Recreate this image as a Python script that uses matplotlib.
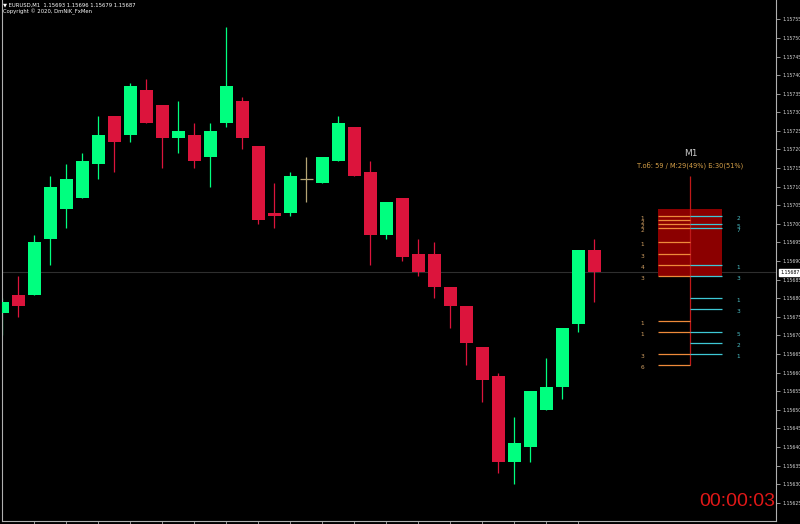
import numpy as np
import matplotlib
matplotlib.use("Agg")
import matplotlib.pyplot as plt
from matplotlib.patches import Rectangle

# M1 свечи EURUSD
opens = [1.15676, 1.15681, 1.15681, 1.15696, 1.15704, 1.15707, 1.15716, 1.15729, 1.15724, 1.15736,
         1.15732, 1.15723, 1.15724, 1.15718, 1.15727, 1.15733, 1.15721, 1.15703, 1.15703, 1.15712,
         1.15711, 1.15717, 1.15726, 1.15714, 1.15697, 1.15707, 1.15692, 1.15692, 1.15683, 1.15678,
         1.15667, 1.15659, 1.15636, 1.15640, 1.15650, 1.15656, 1.15673, 1.15693]
highs = [1.15680, 1.15686, 1.15697, 1.15713, 1.15716, 1.15719, 1.15729, 1.15729, 1.15738, 1.15739,
         1.15732, 1.15733, 1.15727, 1.15727, 1.15753, 1.15734, 1.15721, 1.15711, 1.15714, 1.15718,
         1.15718, 1.15729, 1.15726, 1.15717, 1.15706, 1.15707, 1.15696, 1.15695, 1.15683, 1.15678,
         1.15667, 1.15660, 1.15648, 1.15655, 1.15664, 1.15672, 1.15693, 1.15696]
lows = [1.15670, 1.15675, 1.15681, 1.15689, 1.15699, 1.15707, 1.15712, 1.15714, 1.15722, 1.15727,
        1.15715, 1.15719, 1.15715, 1.15710, 1.15726, 1.15720, 1.15700, 1.15699, 1.15702, 1.15706,
        1.15711, 1.15717, 1.15713, 1.15689, 1.15696, 1.15690, 1.15686, 1.15680, 1.15672, 1.15662,
        1.15652, 1.15633, 1.15630, 1.15636, 1.15650, 1.15653, 1.15671, 1.15679]
closes = [1.15679, 1.15678, 1.15695, 1.15710, 1.15712, 1.15717, 1.15724, 1.15722, 1.15737, 1.15727,
          1.15723, 1.15725, 1.15717, 1.15725, 1.15737, 1.15723, 1.15701, 1.15702, 1.15713, 1.15712,
          1.15718, 1.15727, 1.15713, 1.15697, 1.15706, 1.15691, 1.15687, 1.15683, 1.15678, 1.15668,
          1.15658, 1.15636, 1.15641, 1.15655, 1.15656, 1.15672, 1.15693, 1.15687]

# профиль M1: продажи (слева) и покупки (справа)
sell_levels = [1.15702, 1.15701, 1.15700, 1.15699, 1.15695, 1.15692, 1.15689, 1.15686,
               1.15674, 1.15671, 1.15665, 1.15662]
sell_counts = [1, 2, 2, 2, 1, 3, 4, 3, 1, 1, 3, 6]
buy_levels = [1.15702, 1.15700, 1.15699, 1.15689, 1.15686, 1.15680, 1.15677, 1.15671,
              1.15668, 1.15665]
buy_counts = [2, 5, 7, 1, 3, 1, 3, 5, 2, 1]
box_top = 1.15704
box_bottom = 1.15686
stem_top = 1.15713
stem_bottom = 1.15662

price_ticks = np.round(np.arange(1.15625, 1.157551, 0.00005), 5)
last_price = 1.15687
header = "▼ EURUSD,M1  1.15693 1.15696 1.15679 1.15687"
copyright_txt = "Copyright © 2020, DmNiK_FxMen"
timer_txt = "00:00:03"

W, H = 800, 524
fig = plt.figure(figsize=(8, 5.24), dpi=100, facecolor="black")
ax = fig.add_axes([1.5 / W, 3 / H, (776 - 1.5) / W, 1 - 3 / H])
ax.set_facecolor("black")

bull = "#00ff7f"
bear = "#dc143c"
doji = "#b4a474"
x = np.arange(len(opens))
o = np.array(opens)
c = np.array(closes)
cols = np.where(c > o, bull, np.where(c < o, bear, doji))

ax.vlines(x, lows, highs, colors=cols, linewidth=0.9, zorder=2)
body = c - o
ax.bar(x, body, bottom=o, width=0.78, color=cols, linewidth=0, zorder=3)
flat = body == 0
ax.hlines(o[flat], x[flat] - 0.39, x[flat] + 0.39, colors=doji, linewidth=0.9, zorder=3)

# линия текущей цены
ax.axhline(last_price, color="#2e2e2e", linewidth=0.8, zorder=1)

# профиль
px_l, px_c, px_r = 41.0, 43.0, 45.0
ax.add_patch(Rectangle((px_l, box_bottom), px_r - px_l, box_top - box_bottom,
                       facecolor="#8b0000", edgecolor="none", zorder=4))
ax.vlines(px_c, stem_bottom, stem_top, colors="#c01818", linewidth=0.9, zorder=5)
ax.hlines(sell_levels, px_l, px_c, colors="#ee8a3a", linewidth=0.9, zorder=6)
ax.hlines(buy_levels, px_c, px_r, colors="#3ec8d6", linewidth=0.9, zorder=6)
for lv, n in zip(sell_levels, sell_counts):
    ax.text(40.0, lv, str(n), color="#d2a064", fontsize=4.2, ha="center", va="top", zorder=7)
for lv, n in zip(buy_levels, buy_counts):
    ax.text(46.0, lv, str(n), color="#4cc0c8", fontsize=4.2, ha="center", va="top", zorder=7)
ax.text(43.0, 1.15719, "M1", color="#c8c8c8", fontsize=6.5, ha="center", va="center")
ax.text(43.0, 1.157155, "T.об: 59 / M:29(49%) Б:30(51%)", color="#d6a048",
        fontsize=4.8, ha="center", va="center")

ax.set_xlim((1.5 - 2.4) / 16, (776 - 2.4) / 16)
ax.set_ylim(1.156201, 1.157602)

for s in ["top"]:
    ax.spines[s].set_visible(False)
for s in ["left", "right", "bottom"]:
    ax.spines[s].set_color("#b0b0b0")
    ax.spines[s].set_linewidth(0.8)

ax.yaxis.tick_right()
ax.set_yticks(price_ticks)
ax.set_yticklabels([f"{v:.5f}" for v in price_ticks])
ax.tick_params(axis="y", colors="#b0b0b0", labelcolor="#d8d8d8", labelsize=3.3,
               length=3, width=0.6, pad=1.5)
ax.set_xticks(np.arange(2, 37, 2))
ax.set_xticklabels([])
ax.tick_params(axis="x", colors="#b0b0b0", length=3, width=0.6)

ax.annotate(f"{last_price:.5f}", xy=(1.0, last_price), xycoords=("axes fraction", "data"),
            xytext=(3, 0), textcoords="offset points", fontsize=3.3, color="black",
            va="center", ha="left",
            bbox=dict(boxstyle="square,pad=0.25", facecolor="white", edgecolor="white"))

fig.text(3 / W, 1 - 5 / H, header, color="white", fontsize=3.8, va="center", ha="left")
fig.text(3 / W, 1 - 12 / H, copyright_txt, color="white", fontsize=3.8, va="center", ha="left")
fig.text(737 / W, 1 - 502 / H, timer_txt, color="#e01818", fontsize=14,
         family="Liberation Sans", ha="center", va="center")

fig.savefig("out.png", dpi=100, facecolor="black")
